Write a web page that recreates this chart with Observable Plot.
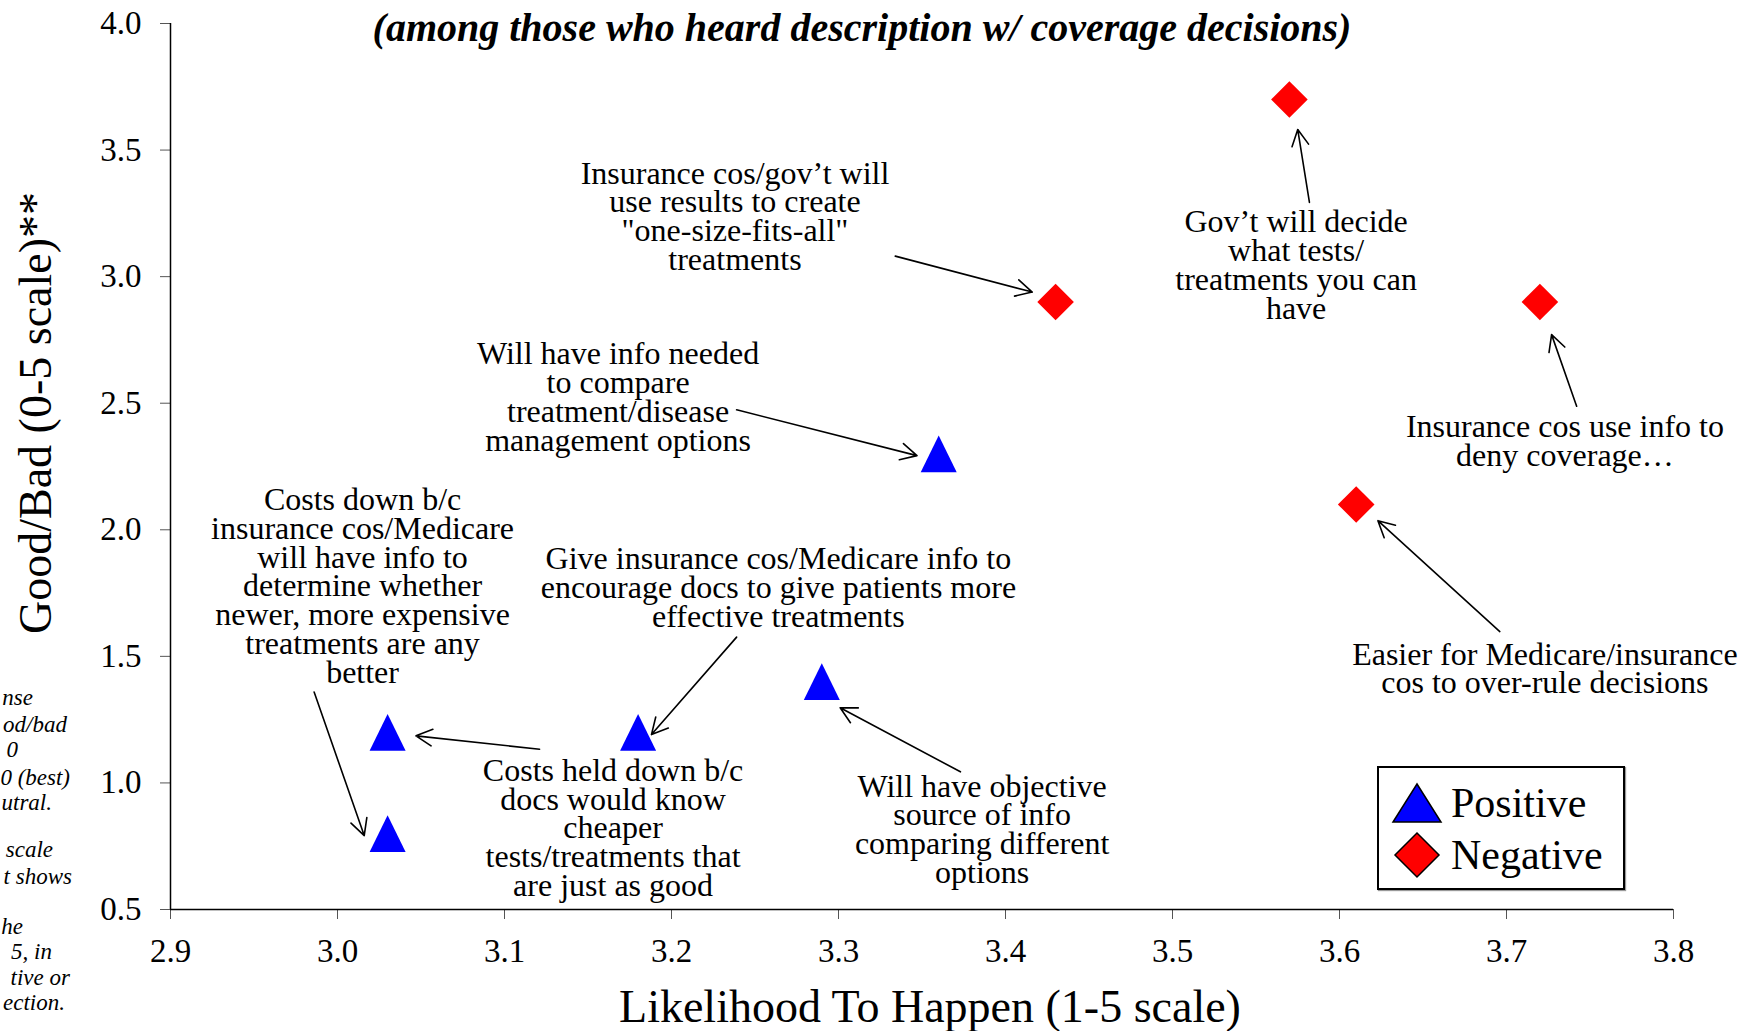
<!DOCTYPE html>
<html>
<head>
<meta charset="utf-8">
<script src="https://cdn.jsdelivr.net/npm/d3@7"></script>
<script src="https://cdn.jsdelivr.net/npm/@observablehq/plot@0.6"></script>
<style>
  html, body { margin: 0; padding: 0; background: #fff; }
  #wrap { position: relative; width: 1758px; height: 1031px; overflow: hidden; font-family: "Liberation Serif", "Times New Roman", serif; }
  .abs { position: absolute; white-space: nowrap; color: #000; }
  #title { left: 862px; top: 27px; transform: translate(-50%, -50%); font-size: 40px; font-weight: bold; font-style: italic; }
  #xtitle { left: 930px; top: 1006px; transform: translate(-50%, -50%); font-size: 46px; }
  #ytitle { left: 35px; top: 413px; transform: translate(-50%, -50%) rotate(-90deg); font-size: 46px; }
  .foot { font-size: 23px; font-style: italic; transform: translate(-100%, -50%); }
  #legend { left: 1377px; top: 766px; width: 244px; height: 120px; border: 2px solid #000; box-shadow: 1px 1px 1px #999; background: #fff; }
  .lrow { position: absolute; left: 12px; height: 50px; display: flex; align-items: center; font-size: 42px; }
  .lrow svg { margin-right: 8px; }
</style>
</head>
<body>
<div id="wrap"></div>
<script>
// ---- data ----
const positiveX = [3.03, 3.03, 3.18, 3.29, 3.36];
const positiveY = [1.2, 0.8, 1.2, 1.4, 2.3];
const negativeX = [3.43, 3.57, 3.72, 3.61];
const negativeY = [2.9, 3.7, 2.9, 2.1];

const xTicks = [2.9, 3.0, 3.1, 3.2, 3.3, 3.4, 3.5, 3.6, 3.7, 3.8];
const yTicks = [0.5, 1.0, 1.5, 2.0, 2.5, 3.0, 3.5, 4.0];

const labelText = [
  "Insurance cos/gov’t will\nuse results to create\n\"one-size-fits-all\"\ntreatments",
  "Gov’t will decide\nwhat tests/\ntreatments you can\nhave",
  "Will have info needed\nto compare\ntreatment/disease\nmanagement options",
  "Insurance cos use info to\ndeny coverage…",
  "Costs down b/c\ninsurance cos/Medicare\nwill have info to\ndetermine whether\nnewer, more expensive\ntreatments are any\nbetter",
  "Give insurance cos/Medicare info to\nencourage docs to give patients more\neffective treatments",
  "Easier for Medicare/insurance\ncos to over-rule decisions",
  "Costs held down b/c\ndocs would know\ncheaper\ntests/treatments that\nare just as good",
  "Will have objective\nsource of info\ncomparing different\noptions"
];
const labelX = [3.238, 3.574, 3.168, 3.735, 3.015, 3.264, 3.723, 3.165, 3.386];
const labelY = [3.233, 3.041, 2.519, 2.346, 1.773, 1.768, 1.447, 0.817, 0.812];

const arrowX1 = [3.334, 3.582, 3.239, 3.742, 2.986, 3.239, 3.696, 3.121, 3.373];
const arrowY1 = [3.081, 3.293, 2.474, 2.488, 1.359, 1.576, 1.598, 1.133, 1.044];
const arrowX2 = [3.416, 3.575, 3.347, 3.727, 3.016, 3.188, 3.623, 3.047, 3.301];
const arrowY2 = [2.939, 3.581, 2.293, 2.771, 0.792, 1.191, 2.036, 1.186, 1.297];

const titleText = "(among those who heard description w/ coverage decisions)";
const xTitle = "Likelihood To Happen (1-5 scale)";
const yTitle = "Good/Bad (0-5 scale)**";
const legendLabels = ["Positive", "Negative"];
const footLines = ["nse", "od/bad", "0", "0 (best)", "utral.", "scale", "t shows", "he", "5, in", "tive or", "ection."];

// ---- layout (not data) ----
const footPos = [[33,698],[67,725],[18,750],[70,778],[52,803],[53,850],[72,877],[23,927],[52,952],[70,978],[65,1003]];
const BLUE = "#0000FF", RED = "#FF0000";

// ---- build tables ----
const positives = positiveX.map((x, i) => ({x, y: positiveY[i]}));
const negatives = negativeX.map((x, i) => ({x, y: negativeY[i]}));
const labels = labelText.map((t, i) => ({t, x: labelX[i], y: labelY[i]}));
const arrows = arrowX1.map((x1, i) => ({x1, y1: arrowY1[i], x2: arrowX2[i], y2: arrowY2[i]}));

// custom symbols (bbox-centered)
const triSym = { draw(ctx, size) { const r = Math.sqrt(size / Math.PI); const h = r * 1.02; ctx.moveTo(0, -h); ctx.lineTo(r, h); ctx.lineTo(-r, h); ctx.closePath(); } };
const diaSym = { draw(ctx, size) { const r = Math.sqrt(size / Math.PI); ctx.moveTo(0, -r); ctx.lineTo(r, 0); ctx.lineTo(0, r); ctx.lineTo(-r, 0); ctx.closePath(); } };

const FONT = "'Liberation Serif', 'Times New Roman', serif";

const chart = Plot.plot({
  width: 1758,
  height: 1031,
  marginLeft: 170,
  marginRight: 85,
  marginTop: 23,
  marginBottom: 122,
  style: { fontFamily: FONT, background: "white", color: "black" },
  x: { domain: [2.9, 3.8] },
  y: { domain: [0.5, 4.0] },
  marks: [
    Plot.axisX({ ticks: xTicks, tickFormat: d3.format(".1f"), tickSize: 10, tickPadding: 19, fontSize: 33, label: null, stroke: "#555", fill: "black" }),
    Plot.axisY({ ticks: yTicks, tickFormat: d3.format(".1f"), tickSize: 10, tickPadding: 19, fontSize: 33, label: null, stroke: "#555", fill: "black" }),
    Plot.ruleX([2.9], { stroke: "black", strokeWidth: 1.5 }),
    Plot.ruleY([0.5], { stroke: "black", strokeWidth: 1.5 }),
    Plot.arrow(arrows, { x1: "x1", y1: "y1", x2: "x2", y2: "y2", stroke: "black", strokeWidth: 1.6, headLength: 17, headAngle: 55 }),
    Plot.text(labels, { x: "x", y: "y", text: "t", fontSize: 32, lineHeight: 0.9, textAnchor: "middle", lineAnchor: "middle", fill: "black", fontFamily: FONT }),
    Plot.dot(positives, { x: "x", y: "y", r: 18, symbol: triSym, fill: BLUE, stroke: "none" }),
    Plot.dot(negatives, { x: "x", y: "y", r: 18.3, symbol: diaSym, fill: RED, stroke: "none" })
  ]
});

const wrap = document.getElementById("wrap");
chart.style.position = "absolute";
chart.style.left = "0px";
chart.style.top = "0px";
wrap.appendChild(chart);

function addDiv(id, cls, text, styleObj) {
  const d = document.createElement("div");
  if (id) d.id = id;
  d.className = cls;
  d.textContent = text;
  if (styleObj) Object.assign(d.style, styleObj);
  wrap.appendChild(d);
  return d;
}
addDiv("title", "abs", titleText);
addDiv("xtitle", "abs", xTitle);
addDiv("ytitle", "abs", yTitle);
footLines.forEach((t, i) => addDiv(null, "abs foot", t, { left: footPos[i][0] + "px", top: footPos[i][1] + "px" }));

// legend
const legend = addDiv("legend", "abs", "");
const legendSyms = [
  `<svg width="52" height="44" viewBox="-26 -22 52 44"><path d="M0,-19L24,19L-24,19Z" fill="${BLUE}" stroke="black" stroke-width="1.5"/></svg>`,
  `<svg width="52" height="48" viewBox="-26 -24 52 48"><path d="M0,-22L22,0L0,22L-22,0Z" fill="${RED}" stroke="black" stroke-width="1.5"/></svg>`
];
legendLabels.forEach((lab, i) => {
  const row = document.createElement("div");
  row.className = "lrow";
  row.style.top = (i === 0 ? 10 : 62) + "px";
  row.innerHTML = legendSyms[i] + `<span>${lab}</span>`;
  legend.appendChild(row);
});
</script>
</body>
</html>
